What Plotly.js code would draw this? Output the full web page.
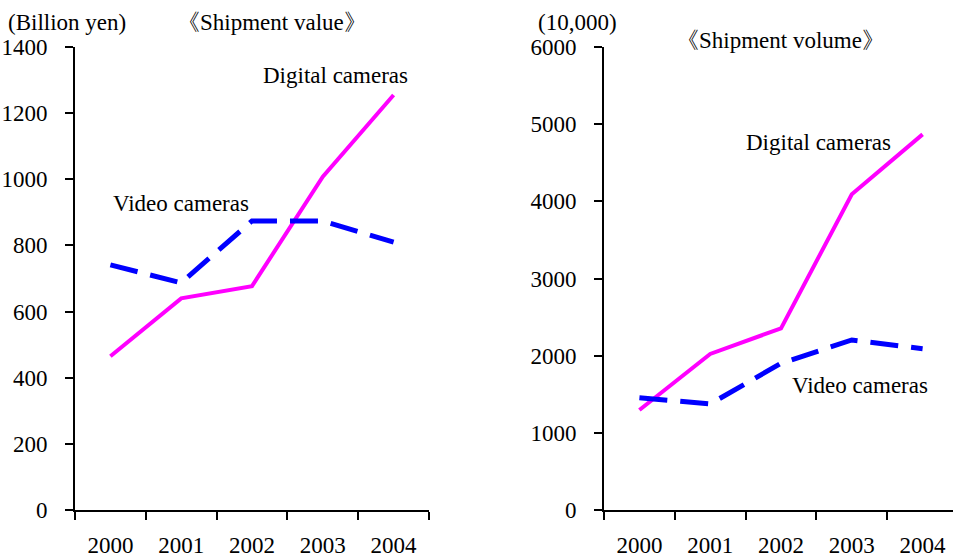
<!DOCTYPE html>
<html><head><meta charset="utf-8">
<script src="https://cdn.plot.ly/plotly-3.0.1.min.js"></script>
<style>html,body{margin:0;padding:0;background:#fff;}#chart{width:953px;height:558px;}</style>
</head><body><div id="chart"></div>
<script>
const years = ["2000", "2001", "2002", "2003", "2004"];
const valueDigital = [465, 640, 677, 1008, 1255];
const valueVideo = [741, 687, 874, 874, 810];
const volumeDigital = [1296, 2022, 2354, 4091, 4868];
const volumeVideo = [1455, 1374, 1901, 2203, 2090];

const FONT = "Liberation Serif";
const FS = 23;
const magenta = "#FF00FF", blue = "#0000FF";

const traces = [
  {x: years, y: valueDigital, xaxis: "x", yaxis: "y", mode: "lines", line: {color: magenta, width: 4}, name: "Digital cameras"},
  {x: years, y: valueVideo, xaxis: "x", yaxis: "y", mode: "lines", line: {color: blue, width: 5, dash: "28px,13px"}, name: "Video cameras"},
  {x: years, y: volumeDigital, xaxis: "x2", yaxis: "y2", mode: "lines", line: {color: magenta, width: 4}, name: "Digital cameras"},
  {x: years, y: volumeVideo, xaxis: "x2", yaxis: "y2", mode: "lines", line: {color: blue, width: 5, dash: "28px,13px"}, name: "Video cameras"}
];

const W = 953, H = 558;
const yDom = [(H - 510) / H, (H - 47) / H];
function xAxis(extra) {
  return Object.assign({
    type: "category", showgrid: false, zeroline: false, showline: true, linecolor: "#000", linewidth: 2,
    ticks: "outside", tickson: "boundaries", ticklen: 8, tickwidth: 2, tickcolor: "#000",
    tickfont: {family: FONT, size: FS, color: "#000000"}, ticklabelstandoff: 13
  }, extra);
}
function yAxis(extra) {
  return Object.assign({
    showgrid: false, zeroline: false, showline: true, linecolor: "#000", linewidth: 2,
    ticks: "outside", ticklen: 8, tickwidth: 2, tickcolor: "#000", domain: yDom,
    tickfont: {family: FONT, size: FS, color: "#000000"}, ticklabelstandoff: 13
  }, extra);
}
function note(text, px, py, xanchor) {
  return {text: text, xref: "paper", yref: "paper", x: px / W, y: 1 - py / H,
    xanchor: xanchor || "center", yanchor: "middle", showarrow: false,
    font: {family: FONT, size: FS, color: "#000000"}};
}

const layout = {
  width: W, height: H, margin: {l: 0, r: 0, t: 0, b: 0},
  paper_bgcolor: "#fff", plot_bgcolor: "#fff", showlegend: false,
  font: {family: FONT, size: FS, color: "#000000"},
  xaxis: xAxis({domain: [75 / W, 429 / W], range: [-0.5, 4.5], anchor: "y"}),
  yaxis: yAxis({range: [0, 1400], dtick: 200, anchor: "x"}),
  xaxis2: xAxis({domain: [604 / W, 1], range: [-0.5, -0.5 + (W - 604) / 70.8], anchor: "y2"}),
  yaxis2: yAxis({range: [0, 6000], dtick: 1000, anchor: "x2"}),
  annotations: [
    note("(Billion yen)", 6, 22, "left"),
    note("《Shipment value》", 272, 22),
    note("(10,000)", 536, 22, "left"),
    note("《Shipment volume》", 780, 41),
    note("Digital cameras", 335, 76),
    note("Video cameras", 181, 203),
    note("Digital cameras", 818, 142),
    note("Video cameras", 860, 385)
  ]
};

Plotly.newPlot("chart", traces, layout, {displayModeBar: false, staticPlot: true});
</script></body></html>
